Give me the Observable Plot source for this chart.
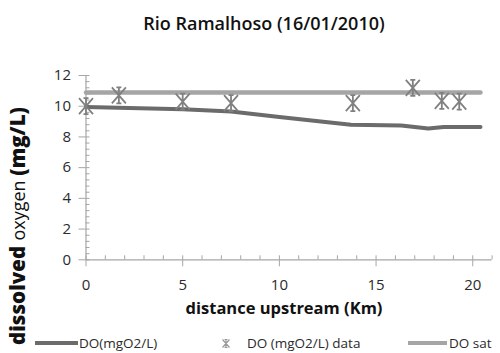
<!DOCTYPE html>
<html>
<head>
<meta charset="utf-8">
<script src="https://cdn.jsdelivr.net/npm/d3@7"></script>
<script src="https://cdn.jsdelivr.net/npm/@observablehq/plot@0.6"></script>
<style>
  body { margin: 0; background: #fff; }
  #chart { width: 500px; height: 353px; }
  svg { font-family: "Open Sans", sans-serif; }
</style>
</head>
<body>
<div id="chart"></div>
<script>
// Model DO line
const modelDist = [0, 5, 7.5, 10, 13.7, 16.3, 17.7, 18.5, 20.4];
const modelDO   = [9.95, 9.8, 9.65, 9.3, 8.8, 8.75, 8.55, 8.65, 8.65];
// DO saturation
const satDist = [0, 20.4];
const satDO   = [10.9, 10.9];
// Measured data
const dataDist = [0, 1.7, 5.0, 7.5, 13.8, 16.9, 18.4, 19.3];
const dataDO   = [10.0, 10.7, 10.3, 10.2, 10.2, 11.2, 10.35, 10.3];
// Ticks
const xMajor = [0, 5, 10, 15, 20];
const yMajor = [0, 2, 4, 6, 8, 10, 12];
const xMinor = d3.range(0, 22, 1);
const yMinor = d3.range(0, 12.01, 0.4);

const title = "Rio Ramalhoso (16/01/2010)";
const xLabel = "distance upstream (Km)";
const legendLabels = ["DO(mgO2/L)", "DO (mgO2/L) data", "DO sat"];

const model = modelDist.map((x, i) => ({x, y: modelDO[i]}));
const sat = satDist.map((x, i) => ({x, y: satDO[i]}));
const obs = dataDist.map((x, i) => ({x, y: dataDO[i]}));

const starSymbol = (w, r, c) => ({
  draw(ctx) {
    ctx.moveTo(0, -r); ctx.lineTo(0, r);
    ctx.moveTo(-w, -r); ctx.lineTo(w, r);
    ctx.moveTo(w, -r); ctx.lineTo(-w, r);
    ctx.moveTo(-c, -r); ctx.lineTo(c, -r);
    ctx.moveTo(-c, r); ctx.lineTo(c, r);
  }
});

const axisGray = "#a6a6a6";
const textCol = "#2b2b2b";

const chart = Plot.plot({
  width: 500,
  height: 353,
  marginLeft: 85.5,
  marginRight: 8.4,
  marginTop: 75,
  marginBottom: 93.7,
  style: {fontFamily: "'Open Sans', sans-serif", background: "#fff"},
  x: {domain: [0, 21]},
  y: {domain: [0, 12]},
  marks: [
    Plot.axisX(xMajor, {tickSize: 7, tickPadding: 13, stroke: axisGray, fill: textCol, fontSize: 15, label: null}),
    Plot.axisX(xMinor, {tickSize: -4, stroke: axisGray, text: null, label: null}),
    Plot.axisY(yMajor, {tickSize: 7, tickPadding: 8, stroke: axisGray, fill: textCol, fontSize: 15, label: null}),
    Plot.axisY(yMinor, {tickSize: -4, stroke: axisGray, text: null, label: null}),
    Plot.ruleY([0], {stroke: axisGray, strokeWidth: 1.2}),
    Plot.ruleX([0], {stroke: axisGray, strokeWidth: 1.2}),
    Plot.line(sat, {x: "x", y: "y", stroke: "#a5a5a5", strokeWidth: 4.5}),
    Plot.line(model, {x: "x", y: "y", stroke: "#6b6b6b", strokeWidth: 4}),
    Plot.dot(obs, {x: "x", y: "y", symbol: starSymbol(7, 8, 2.5), fill: "none", stroke: "#808080", strokeWidth: 1.8, r: 8})
  ]
});

const svg = d3.select(chart);
// Title
svg.append("text")
  .attr("x", 264).attr("y", 30)
  .attr("text-anchor", "middle")
  .attr("font-size", 18).attr("font-weight", 600)
  .attr("fill", "#111")
  .text(title);
// X label
svg.append("text")
  .attr("x", 284).attr("y", 314)
  .attr("text-anchor", "middle")
  .attr("font-size", 16.5).attr("font-weight", 700)
  .attr("fill", "#111")
  .text(xLabel);
// Y label
const yl = svg.append("text")
  .attr("transform", "translate(25,226) rotate(-90)")
  .attr("text-anchor", "middle")
  .attr("font-size", 20.5)
  .attr("fill", "#111");
yl.append("tspan").attr("font-weight", 800).text("dissolved ");
yl.append("tspan").attr("font-weight", 400).attr("font-size", 18).text("oxygen ");
yl.append("tspan").attr("font-weight", 800).text("(mg/L)");

// Legend
const lg = svg.append("g").attr("font-size", 13.5).attr("fill", textCol).attr("text-anchor", "start");
lg.append("line").attr("x1", 35).attr("x2", 78).attr("y1", 343).attr("y2", 343)
  .attr("stroke", "#6b6b6b").attr("stroke-width", 4);
lg.append("text").attr("x", 79).attr("y", 348).text(legendLabels[0]);
const ls = lg.append("g").attr("transform", "translate(226,343.5)")
  .attr("stroke", "#9a9a9a").attr("stroke-width", 1.2).attr("fill", "none");
ls.append("path").attr("d", d3.symbol(starSymbol(3.5, 4, 1.5))());
lg.append("text").attr("x", 247).attr("y", 348).text(legendLabels[1]);
lg.append("line").attr("x1", 408).attr("x2", 447).attr("y1", 343).attr("y2", 343)
  .attr("stroke", "#a5a5a5").attr("stroke-width", 4);
lg.append("text").attr("x", 449).attr("y", 348).text(legendLabels[2]);

document.getElementById("chart").appendChild(chart);
</script>
</body>
</html>
